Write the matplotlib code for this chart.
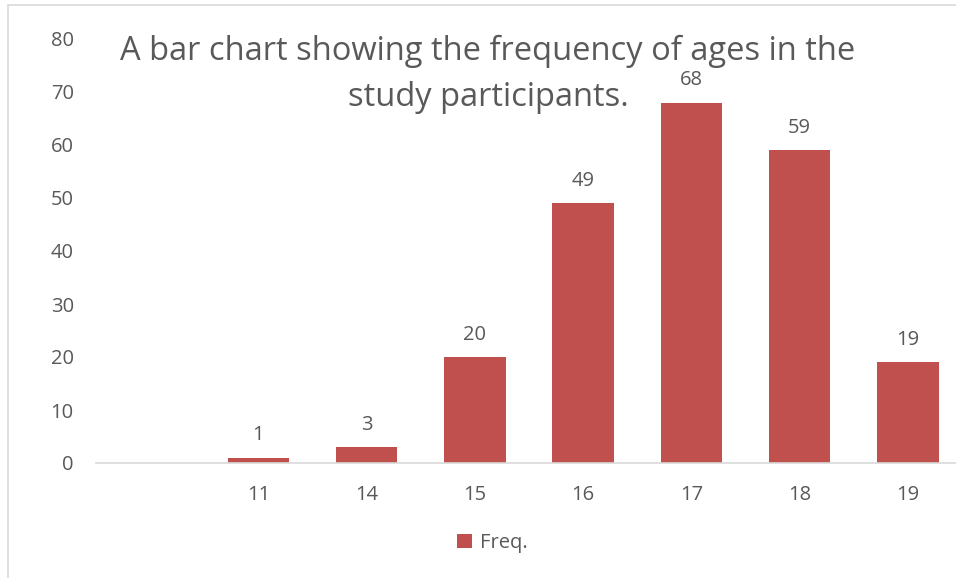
import matplotlib.pyplot as plt
from matplotlib.patches import Rectangle

ages = ['', '11', '14', '15', '16', '17', '18', '19']
freq = [None, 1, 3, 20, 49, 68, 59, 19]
yticks = [0, 10, 20, 30, 40, 50, 60, 70, 80]

bar_color = '#C0504D'
text_color = '#595959'
plt.rcParams['font.family'] = ['Open Sans', 'DejaVu Sans']

W, H = 956, 578
fig = plt.figure(figsize=(W / 100, H / 100), dpi=100)

# outer chart border (only top and left edges fall inside the image)
fig.patches.append(Rectangle((8 / W, -0.1), 1.2, (H - 5) / H + 0.1, transform=fig.transFigure,
                             fill=False, edgecolor='#D9D9D9', linewidth=1.2))

ax = fig.add_axes([96 / W, 115 / H, 866 / W, 424 / H])
x = list(range(len(ages)))
vals = [v if v is not None else 0 for v in freq]
bars = ax.bar(x, vals, width=0.57, color=bar_color, label='Freq.')
for xi, v in zip(x, freq):
    if v is not None:
        ax.annotate(str(v), (xi, v), xytext=(0, 9), textcoords='offset points',
                    ha='center', va='bottom', fontsize=14.5, color=text_color)

ax.set_xlim(-0.5, len(ages) - 0.5)
ax.set_ylim(0, 80)
ax.set_yticks(yticks)
ax.set_xticks(x)
ax.set_xticklabels(ages)
for s in ['top', 'right', 'left']:
    ax.spines[s].set_visible(False)
ax.spines['bottom'].set_color('#D9D9D9')
ax.spines['bottom'].set_linewidth(1.2)
ax.tick_params(axis='both', length=0, labelsize=14.5, labelcolor=text_color)
ax.tick_params(axis='y', pad=16)
ax.tick_params(axis='x', pad=16)
ax.patch.set_alpha(0)

fig.text(488 / W, 1 - 51 / H, 'A bar chart showing the frequency of ages in the',
         ha='center', va='center', fontsize=23.5, color=text_color)
fig.text(488 / W, 1 - 97 / H, 'study participants.',
         ha='center', va='center', fontsize=23.5, color=text_color)

fig.legend(handles=[bars], labels=['Freq.'], loc='center', bbox_to_anchor=(492 / W, 1 - 543 / H),
           frameon=False, fontsize=14.5, labelcolor=text_color, handlelength=0.75,
           handleheight=0.75, handletextpad=0.4)

fig.savefig('out.png', dpi=100)
